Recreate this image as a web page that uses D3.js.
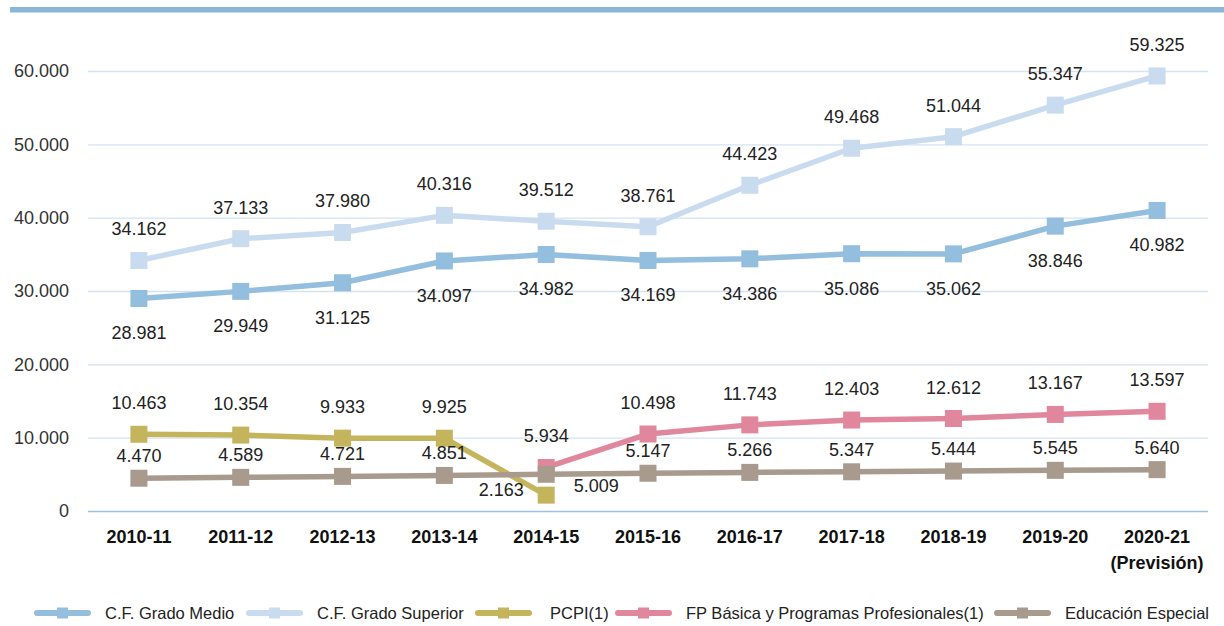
<!DOCTYPE html>
<html><head><meta charset="utf-8">
<script src="https://cdn.jsdelivr.net/npm/d3@7"></script>
<style>
html,body{margin:0;padding:0;background:#fff;}
svg{display:block;font-family:"Liberation Sans",Arial,sans-serif;}
</style></head>
<body>
<svg id="chart" width="1224" height="626"></svg>
<script>
const categories = ["2010-11","2011-12","2012-13","2013-14","2014-15","2015-16","2016-17","2017-18","2018-19","2019-20","2020-21"];
const categorySub = ["","","","","","","","","","","(Previsión)"];
const gradoMedio = [28981,29949,31125,34097,34982,34169,34386,35086,35062,38846,40982];
const gradoSuperior = [34162,37133,37980,40316,39512,38761,44423,49468,51044,55347,59325];
const pcpi = [10463,10354,9933,9925,2163,null,null,null,null,null,null];
const fpBasica = [null,null,null,null,5934,10498,11743,12403,12612,13167,13597];
const educEspecial = [4470,4589,4721,4851,5009,5147,5266,5347,5444,5545,5640];
const seriesNames = ["C.F. Grado Medio","C.F. Grado Superior","PCPI(1)","FP Básica y Programas Profesionales(1)","Educación Especial"];
const yTicks = [0,10000,20000,30000,40000,50000,60000];

const colors = ["#94bedd","#c9dcef","#c4b55c","#e0879d","#a89a8c"];
const labelSide = ["below","above","above","above","above"];
const series = [gradoMedio, gradoSuperior, pcpi, fpBasica, educEspecial];

const svg = d3.select("#chart");
const fmt = v => d3.format(",")(v).replace(/,/g,".");

// top bar
svg.append("rect").attr("x",10).attr("y",7).attr("width",1214).attr("height",5.5).attr("fill","#8ab6d8");

const x = d3.scaleBand().domain(categories).range([88,1208]);
const y = d3.scaleLinear().domain([0,60000]).range([511,71]);
const cx = c => x(c) + x.bandwidth()/2;

// grid
svg.append("g").selectAll("line").data(yTicks).join("line")
  .attr("x1",88).attr("x2",1208)
  .attr("y1",d=>y(d)+0.5).attr("y2",d=>y(d)+0.5)
  .attr("stroke",d=>d===0?"#9cc4e2":"#d3e3f2").attr("stroke-width",1.3);

// y axis labels
const yAxis = d3.axisLeft(y).tickValues(yTicks).tickFormat(fmt).tickSize(0).tickPadding(0);
const ya = svg.append("g").attr("transform","translate(69,0)").call(yAxis);
ya.select(".domain").remove();
ya.selectAll("text").attr("font-size",18).attr("fill","#333").attr("font-family","inherit");

// x axis labels
const xAxis = d3.axisBottom(x).tickSize(0).tickPadding(0);
const xa = svg.append("g").attr("transform","translate(0,530)").call(xAxis);
xa.select(".domain").remove();
xa.selectAll("text").attr("font-size",18).attr("font-weight","bold").attr("fill","#111").attr("font-family","inherit");
xa.selectAll(".tick").each(function(d,i){
  if(categorySub[i]) d3.select(this).append("text").attr("y",26).attr("dy","0.71em").attr("text-anchor","middle")
    .attr("font-size",18).attr("font-weight","bold").attr("fill","#111").text(categorySub[i]);
});

// lines
series.forEach((s,si)=>{
  const pts = categories.map((c,i)=>({c,v:s[i]})).filter(d=>d.v!=null);
  const line = d3.line().x(d=>cx(d.c)).y(d=>y(d.v));
  svg.append("path").datum(pts).attr("d",line).attr("fill","none").attr("stroke",colors[si]).attr("stroke-width",5.5).attr("stroke-linejoin","round");
});
// markers
series.forEach((s,si)=>{
  const pts = categories.map((c,i)=>({c,v:s[i]})).filter(d=>d.v!=null);
  svg.append("g").selectAll("rect").data(pts).join("rect")
    .attr("x",d=>cx(d.c)-8.5).attr("y",d=>y(d.v)-8.5).attr("width",17).attr("height",17).attr("fill",colors[si]);
});
// labels
series.forEach((s,si)=>{
  const pts = categories.map((c,i)=>({c,v:s[i],i})).filter(d=>d.v!=null);
  svg.append("g").selectAll("text").data(pts).join("text")
    .attr("x",d=>{
      if(si===2 && d.c==="2014-15") return cx(d.c)-45;
      if(si===4 && d.c==="2014-15") return cx(d.c)+50;
      return cx(d.c);
    })
    .attr("y",d=>{
      const py = y(d.v);
      if(si===2 && d.c==="2014-15") return py-5;
      if(si===4 && d.c==="2014-15") return py+12;
      if(labelSide[si]==="below") return py+35;
      if(si===4) return py-22;
      return py-31;
    })
    .attr("text-anchor","middle").attr("dominant-baseline","central")
    .attr("font-size",18).attr("fill","#222")
    .text(d=>fmt(d.v));
});

// legend
const legX = [35,247,476,616,995];
const leg = svg.append("g");
seriesNames.forEach((n,i)=>{
  const g = leg.append("g").attr("transform",`translate(${legX[i]},613)`);
  g.append("line").attr("x1",2).attr("x2",53).attr("y1",0).attr("y2",0).attr("stroke",colors[i]).attr("stroke-width",6).attr("stroke-linecap","round");
  g.append("rect").attr("x",22).attr("y",-5.5).attr("width",11).attr("height",11).attr("fill",colors[i]);
  g.append("text").attr("x",i===2?74:70).attr("y",0).attr("dominant-baseline","central")
    .attr("font-size",16.5).attr("fill","#222").text(n);
});
</script>
</body></html>
